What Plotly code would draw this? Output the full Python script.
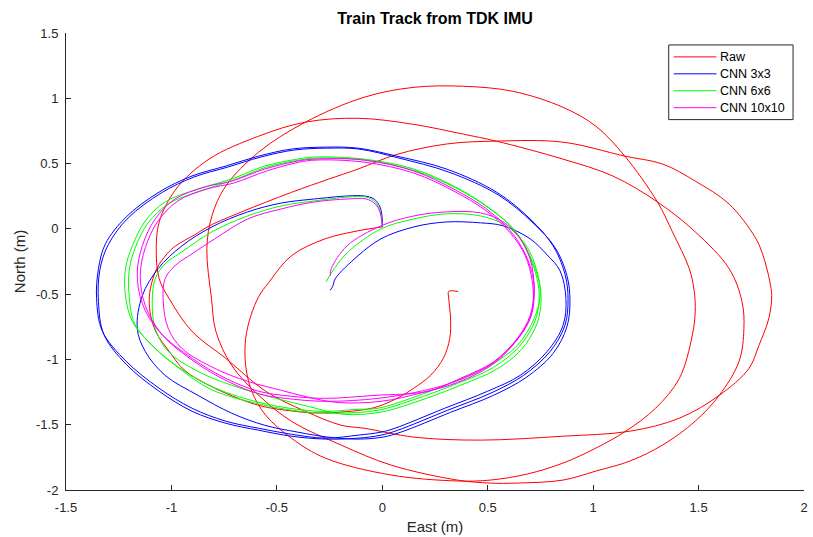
import plotly.graph_objects as go

# ---------------- data (East / North in metres) ----------------
raw_east = [0.36, 0.315, 0.315, 0.324, 0.32, 0.29, 0.23, 0.15, 0.055, -0.04,
            -0.17, -0.32, -0.40, -0.59, -0.82, -0.94, -1.01, -1.07, -1.095, -1.105,
            -1.10, -1.07, -1.02, -0.98, -0.89, -0.82, -0.667, -0.43, -0.256, -0.115,
            0.069, 0.305, 0.54, 0.857, 1.15, 1.33, 1.484, 1.645, 1.767, 1.80, 1.824, 1.838,
            1.847, 1.833, 1.786, 1.739, 1.598, 1.409, 1.173, 0.857, 0.466, 0.15,
            -0.086, -0.195, -0.365, -0.553, -0.742, -0.902, -1.011, -1.058, -1.072, -1.058,
            -0.978, -0.822, -0.586, -0.365, -0.115, 0.15, 0.385, 0.54, 0.857, 1.093,
            1.305, 1.484, 1.645, 1.706, 1.715, 1.692, 1.598, 1.484, 1.329, 1.173,
            1.013, 0.857, 0.64, 0.512, 0.357, 0.041, -0.195, -0.431, -0.586, -0.714,
            -0.789, -0.81, -0.832, -0.808, -0.742, -0.586, -0.365, -0.086, 0.15, 0.385,
            0.621, 0.857, 1.013, 1.15, 1.305, 1.376, 1.456, 1.479, 1.484, 1.47, 1.409,
            1.296, 1.154, 1.013, 0.857, 0.687, 0.512, 0.357, 0.041, -0.27, -0.431,
            -0.553, -0.619, -0.648, -0.648, -0.623, -0.586, -0.539, -0.431, -0.27, -0.115, 0.0]
raw_north = [-0.48, -0.48, -0.53, -0.69, -0.84, -0.99, -1.12, -1.22, -1.31, -1.37,
             -1.40, -1.41, -1.40, -1.35, -1.20, -1.08, -0.94, -0.80, -0.69, -0.57,
             -0.46, -0.305, -0.19, -0.13, -0.046, 0.023, 0.13, 0.28, 0.38, 0.458,
             0.57, 0.65, 0.672, 0.664, 0.557, 0.496, 0.366, 0.19, -0.061, -0.176, -0.305, -0.405,
             -0.511, -0.687, -0.893, -1.069, -1.275, -1.45, -1.55, -1.588, -1.618, -1.595,
             -1.527, -1.504, -1.397, -1.244, -0.992, -0.786, -0.534, -0.382, -0.176, 0.053,
             0.305, 0.534, 0.71, 0.817, 0.847, 0.80, 0.725, 0.672, 0.534, 0.405,
             0.206, -0.023, -0.305, -0.557, -0.763, -1.015, -1.275, -1.473, -1.656, -1.779,
             -1.855, -1.924, -1.947, -1.947, -1.924, -1.809, -1.656, -1.473, -1.275, -1.046,
             -0.786, -0.534, -0.153, 0.099, 0.328, 0.588, 0.817, 1.008, 1.084, 1.092,
             1.053, 0.931, 0.786, 0.557, 0.206, -0.023, -0.305, -0.473, -0.634, -0.817, -1.145,
             -1.374, -1.55, -1.679, -1.794, -1.878, -1.924, -1.931, -1.885, -1.756, -1.603,
             -1.427, -1.244, -1.046, -0.84, -0.664, -0.519, -0.412, -0.206, -0.076, -0.015, 0.015]

cnn3_east = [-0.247, -0.235, -0.223, -0.115, -0.006, 0.15, 0.305, 0.466, 0.574, 0.701,
             0.782, 0.843, 0.871, 0.857, 0.782, 0.654, 0.499, 0.296, 0.06, -0.006,
             -0.115, -0.27, -0.431, -0.586, -0.742, -0.902, -1.058, -1.214, -1.327, -1.355,
             -1.346, -1.313, -1.214, -1.058, -0.902, -0.742, -0.586, -0.431, -0.27, -0.115,
             0.069, 0.305, 0.541, 0.701, 0.81, 0.866, 0.881, 0.866, 0.796, 0.67,
             0.512, 0.31, 0.074, -0.006, -0.115, -0.27, -0.431, -0.586, -0.742, -0.902,
             -1.058, -1.214, -1.32, -1.346, -1.34, -1.30, -1.205, -1.048, -0.893, -0.733,
             -0.576, -0.421, -0.264, -0.11, 0.079, 0.315, 0.55, 0.71, 0.82, 0.876,
             0.89, 0.876, 0.81, 0.683, 0.527, 0.324, 0.088, 0.003, -0.115, -0.257,
             -0.40, -0.558, -0.714, -0.874, -1.03, -1.124, -1.162, -1.138, -1.063, -0.95,
             -0.808, -0.638, -0.478, -0.322, -0.162, -0.086, -0.039, -0.011, -0.001, 0.0]
cnn3_north = [-0.47, -0.44, -0.382, -0.206, -0.076, 0.015, 0.053, 0.046, 0.023, -0.076,
              -0.2, -0.321, -0.534, -0.74, -0.939, -1.122, -1.244, -1.374, -1.527, -1.557,
              -1.58, -1.603, -1.573, -1.527, -1.473, -1.374, -1.221, -1.015, -0.786, -0.534,
              -0.305, -0.115, 0.092, 0.282, 0.405, 0.481, 0.557, 0.611, 0.626, 0.618,
              0.557, 0.458, 0.282, 0.076, -0.13, -0.344, -0.534, -0.74, -0.939, -1.122,
              -1.26, -1.389, -1.542, -1.58, -1.603, -1.61, -1.588, -1.542, -1.489, -1.397,
              -1.244, -1.038, -0.81, -0.557, -0.32, -0.122, 0.084, 0.275, 0.397, 0.473,
              0.55, 0.603, 0.618, 0.611, 0.542, 0.435, 0.26, 0.053, -0.145, -0.359,
              -0.55, -0.748, -0.954, -1.137, -1.275, -1.405, -1.557, -1.595, -1.61, -1.595,
              -1.557, -1.504, -1.412, -1.275, -1.122, -0.939, -0.763, -0.511, -0.305, -0.13,
              0.015, 0.13, 0.198, 0.229, 0.252, 0.252, 0.229, 0.168, 0.092, 0.015]

cnn6_east = [-0.266, -0.228, -0.162, -0.006, 0.15, 0.305, 0.466, 0.588, 0.683, 0.734,
             0.749, 0.72, 0.64, 0.512, 0.343, 0.135, -0.02, -0.115, -0.303, -0.586,
             -0.822, -0.978, -1.091, -1.185, -1.218, -1.218, -1.185, -1.124, -1.03, -0.874,
             -0.714, -0.558, -0.402, -0.322, -0.086, 0.15, 0.338, 0.494, 0.621, 0.692,
             0.734, 0.744, 0.725, 0.65, 0.527, 0.357, 0.14, -0.02, -0.209, -0.35,
             -0.577, -0.813, -0.969, -1.082, -1.175, -1.2, -1.2, -1.17, -1.11, -1.015,
             -0.864, -0.704, -0.549, -0.393, -0.313, -0.086, 0.16, 0.348, 0.504, 0.63,
             0.70, 0.744, 0.753, 0.734, 0.66, 0.541, 0.371, 0.155, -0.011, -0.186,
             -0.35, -0.558, -0.714, -0.874, -1.015, -1.077, -1.091, -1.077, -1.03, -0.95,
             -0.808, -0.638, -0.478, -0.322, -0.162, -0.077, -0.034, -0.011, -0.001]
cnn6_north = [-0.405, -0.305, -0.176, 0.0, 0.076, 0.115, 0.099, 0.023, -0.13, -0.328,
              -0.511, -0.687, -0.893, -1.046, -1.168, -1.298, -1.374, -1.382, -1.397, -1.328,
              -1.198, -1.046, -0.893, -0.71, -0.511, -0.305, -0.13, 0.061, 0.206, 0.305,
              0.382, 0.481, 0.534, 0.55, 0.534, 0.458, 0.328, 0.176, 0.0, -0.191,
              -0.382, -0.534, -0.702, -0.90, -1.061, -1.183, -1.313, -1.389, -1.412, -1.405,
              -1.344, -1.229, -1.061, -0.908, -0.725, -0.519, -0.313, -0.137, 0.046, 0.191,
              0.29, 0.374, 0.473, 0.527, 0.542, 0.527, 0.443, 0.313, 0.16, -0.015,
              -0.206, -0.405, -0.55, -0.725, -0.924, -1.076, -1.198, -1.328, -1.405, -1.42,
              -1.36, -1.275, -1.198, -1.092, -0.939, -0.763, -0.557, -0.382, -0.267, -0.176,
              -0.023, 0.099, 0.176, 0.214, 0.244, 0.244, 0.206, 0.137, 0.03]

cnn10_east = [-0.247, -0.242, -0.167, -0.006, 0.15, 0.305, 0.466, 0.574, 0.654, 0.701,
              0.72, 0.701, 0.64, 0.531, 0.371, 0.216, -0.034, -0.27, -0.431, -0.586,
              -0.742, -0.902, -1.058, -1.138, -1.162, -1.138, -1.077, -0.983, -0.841, -0.714,
              -0.558, -0.402, -0.322, -0.086, 0.15, 0.338, 0.494, 0.607, 0.678, 0.716,
              0.72, 0.701, 0.631, 0.522, 0.362, 0.201, -0.02, -0.257, -0.421, -0.577,
              -0.733, -0.893, -1.044, -1.124, -1.148, -1.124, -1.063, -0.969, -0.832, -0.704,
              -0.549, -0.393, -0.313, -0.086, 0.15, 0.338, 0.494, 0.607, 0.678, 0.711,
              0.716, 0.697, 0.626, 0.517, 0.357, 0.196, -0.006, -0.209, -0.35, -0.478,
              -0.638, -0.794, -0.95, -1.015, -1.039, -1.03, -0.983, -0.902, -0.794, -0.638,
              -0.478, -0.322, -0.162, -0.077, -0.034, -0.011, -0.001]
cnn10_north = [-0.359, -0.305, -0.13, 0.023, 0.099, 0.13, 0.122, 0.053, -0.076, -0.229,
               -0.458, -0.664, -0.84, -1.015, -1.145, -1.244, -1.275, -1.298, -1.282, -1.244,
               -1.145, -0.992, -0.786, -0.573, -0.344, -0.13, 0.076, 0.229, 0.321, 0.366,
               0.458, 0.519, 0.534, 0.527, 0.443, 0.305, 0.153, -0.015, -0.191, -0.382,
               -0.534, -0.687, -0.863, -1.031, -1.16, -1.237, -1.298, -1.321, -1.305, -1.267,
               -1.168, -1.015, -0.81, -0.588, -0.359, -0.145, 0.061, 0.214, 0.305, 0.351,
               0.443, 0.511, 0.527, 0.511, 0.427, 0.29, 0.137, -0.031, -0.206, -0.397,
               -0.55, -0.702, -0.878, -1.046, -1.176, -1.252, -1.321, -1.33, -1.29, -1.237,
               -1.168, -1.069, -0.916, -0.763, -0.557, -0.382, -0.282, -0.191, -0.076, 0.076,
               0.153, 0.206, 0.229, 0.229, 0.191, 0.13, 0.038]

series_names = ["Raw", "CNN 3x3", "CNN 6x6", "CNN 10x10"]
series_colors = ["#ff0000", "#0000ff", "#00ff00", "#ff00ff"]

x_tickvals = [-1.5, -1, -0.5, 0, 0.5, 1, 1.5, 2]
x_ticktext = ["-1.5", "-1", "-0.5", "0", "0.5", "1", "1.5", "2"]
y_tickvals = [-2, -1.5, -1, -0.5, 0, 0.5, 1, 1.5]
y_ticktext = ["-2", "-1.5", "-1", "-0.5", "0", "0.5", "1", "1.5"]

series = list(zip(series_names,
                  [raw_east, cnn3_east, cnn6_east, cnn10_east],
                  [raw_north, cnn3_north, cnn6_north, cnn10_north],
                  series_colors))

FONT = "Liberation Sans, Arial, Helvetica, sans-serif"
AX = "#262626"

fig = go.Figure()
for name, xs, ys, col in series:
    fig.add_trace(go.Scatter(x=xs, y=ys, mode="lines", name=name, showlegend=False,
                             line=dict(color=col, width=1, shape="spline", smoothing=1.0)))

# legend box drawn in paper coordinates (MATLAB-style compact legend)
W, H, L, T = 742.0, 459.0, 66.0, 33.0
def px(xp):
    return (xp - L) / W
def py(yp):
    return (T + H - yp) / H

shapes = [dict(type="rect", xref="paper", yref="paper",
               x0=px(672), x1=px(797), y0=py(120), y1=py(45),
               line=dict(color=AX, width=1), fillcolor="white", layer="above")]
annotations = []
row_y = [57, 74, 91, 108]
for (name, _, _, col), ry in zip(series, row_y):
    shapes.append(dict(type="line", xref="paper", yref="paper",
                       x0=px(677), x1=px(720), y0=py(ry), y1=py(ry),
                       line=dict(color=col, width=1), layer="above"))
    annotations.append(dict(xref="paper", yref="paper", x=px(722), y=py(ry),
                            xanchor="left", yanchor="middle", showarrow=False,
                            text=name, font=dict(family=FONT, size=12.5, color="black")))

fig.update_layout(
    width=813, height=537,
    margin=dict(l=66, r=5, t=33, b=45),
    paper_bgcolor="white", plot_bgcolor="white",
    font=dict(family=FONT, size=13, color=AX),
    title=dict(text="<b>Train Track from TDK IMU</b>", x=0.5, xref="paper", xanchor="center",
               y=1 - 18 / 537, yref="container", yanchor="middle",
               font=dict(family=FONT, size=16, color="black")),
    showlegend=False,
    shapes=shapes,
    annotations=annotations,
)
fig.update_xaxes(range=[-1.5, 2], tickvals=x_tickvals, ticktext=x_ticktext,
                 ticks="inside", ticklen=5, tickcolor=AX, tickwidth=1,
                 showline=True, linecolor=AX, linewidth=1, mirror=False,
                 showgrid=False, zeroline=False, ticklabelstandoff=5,
                 tickfont=dict(family=FONT, size=13, color=AX),
                 title=dict(text="East (m)", standoff=7, font=dict(family=FONT, size=15, color=AX)))
fig.update_yaxes(range=[-2, 1.5], tickvals=y_tickvals, ticktext=y_ticktext,
                 ticks="inside", ticklen=5, tickcolor=AX, tickwidth=1,
                 showline=True, linecolor=AX, linewidth=1, mirror=False,
                 showgrid=False, zeroline=False, ticklabelstandoff=4,
                 tickfont=dict(family=FONT, size=13, color=AX),
                 title=dict(text="North (m)", standoff=6, font=dict(family=FONT, size=15, color=AX)))

fig.write_html("out.html")
